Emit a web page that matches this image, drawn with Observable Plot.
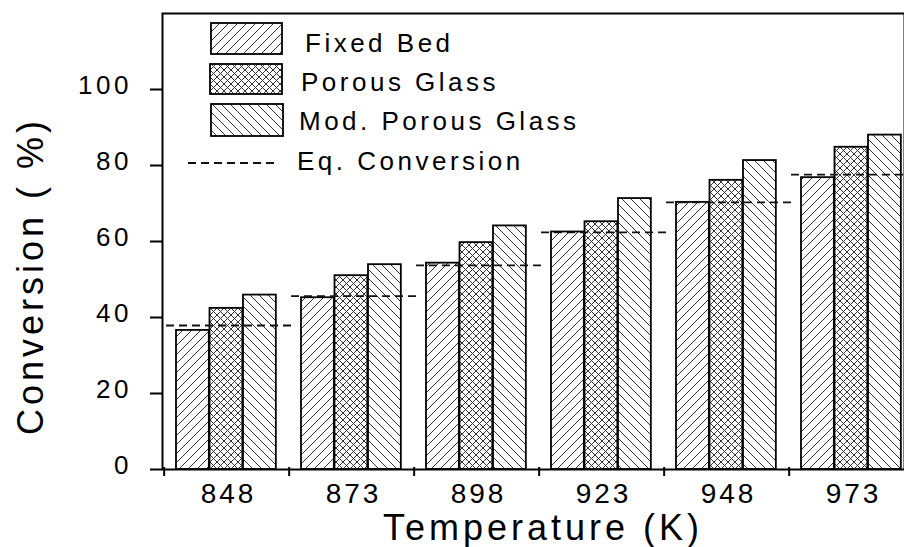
<!DOCTYPE html>
<html>
<head>
<meta charset="utf-8">
<script src="https://cdn.jsdelivr.net/npm/d3@7"></script>
<script src="https://cdn.jsdelivr.net/npm/@observablehq/plot@0.6"></script>
<style>
  html, body { margin: 0; padding: 0; background: white; overflow: hidden; }
  #chart { position: relative; width: 904px; height: 547px; }
  g[aria-label="x-axis tick label"] text { letter-spacing: 3px; }
  g[aria-label="y-axis tick label"] text { letter-spacing: 3.5px; }
</style>
</head>
<body>
<div id="chart"></div>
<script>
// ---- data ----
const temperatures = ["848", "873", "898", "923", "948", "973"];
const seriesNames = ["Fixed Bed", "Porous Glass", "Mod. Porous Glass"];
const fixedBed = [36.6, 45.2, 54.3, 62.5, 70.3, 76.8];
const porousGlass = [42.4, 51.0, 59.7, 65.2, 76.1, 84.8];
const modPorousGlass = [45.9, 53.9, 64.1, 71.3, 81.3, 88.0];
const eqConversion = [37.9, 45.6, 53.7, 62.4, 70.3, 77.6];
const yTicks = [0, 20, 40, 60, 80, 100];
const eqLabel = "Eq. Conversion";
const xTitle = "Temperature (K)";
const yTitle = "Conversion ( %)";

// ---- tables built from the arrays ----
const rows = (vals) => temperatures.map((t, i) => ({temp: t, value: vals[i]}));
const fixedRows = rows(fixedBed);
const porousRows = rows(porousGlass);
const modRows = rows(modPorousGlass);
const eqRows = rows(eqConversion);

// ---- layout ----
const W = 904, H = 547;
const xRange = [162, 916];
const step = (xRange[1] - xRange[0]) / temperatures.length;
const groupPad = 12, barW = 33.5;
const inset = (k) => ({insetLeft: groupPad + k * barW, insetRight: step - groupPad - (k + 1) * barW});
const patterns = ["url(#hatchFwd)", "url(#hatchCross)", "url(#hatchBack)"];
const font = "'Liberation Sans', Arial, Helvetica, sans-serif";

const barOpts = (k) => ({x: "temp", y: "value", fill: patterns[k], stroke: "black", strokeWidth: 1.8, ...inset(k)});

const plot = Plot.plot({
  width: W, height: H,
  marginLeft: 162, marginTop: 13, marginBottom: 78, marginRight: 0,
  x: {domain: temperatures, range: xRange, padding: 0},
  y: {domain: [0, 120], range: [469, 13]},
  style: {fontFamily: font, color: "black", background: "white", overflow: "hidden"},
  marks: [
    Plot.barY(fixedRows, barOpts(0)),
    Plot.barY(porousRows, barOpts(1)),
    Plot.barY(modRows, barOpts(2)),
    Plot.tickY(eqRows, {x: "temp", y: "value", stroke: "#111", strokeWidth: 1.8, strokeDasharray: "8,5", insetLeft: 2, insetRight: -4}),
    Plot.frame({stroke: "black", strokeWidth: 2}),
    Plot.axisY({ticks: yTicks, tickSize: 12, strokeWidth: 2, tickFormat: () => "", label: null}),
    Plot.axisY({ticks: yTicks, tickSize: 0, tickPadding: 30.5, fontSize: 26, dy: -4, label: null}),
    Plot.axisX({tickSize: 0, tickPadding: 14, fontSize: 28, dx: 1.5, label: null}),
    Plot.ruleX(temperatures, {x: d => d, dx: -step / 2, insetTop: 454, insetBottom: -7, strokeWidth: 2, stroke: "black"})
  ]
});

document.getElementById("chart").appendChild(plot);

// ---- hatch patterns ----
const svg = d3.select(plot);
const defs = svg.insert("defs", ":first-child");
function mkPattern(id, size, d) {
  const p = defs.append("pattern").attr("id", id).attr("patternUnits", "userSpaceOnUse")
    .attr("width", size).attr("height", size);
  p.append("rect").attr("width", size).attr("height", size).attr("fill", "white");
  p.append("path").attr("d", d).attr("stroke", "#333").attr("stroke-width", 1).attr("fill", "none");
}
const s = 9;
mkPattern("hatchFwd", s, `M${-s/4},${s/4} l${s/2},${-s/2} M0,${s} L${s},0 M${s*3/4},${s*5/4} l${s/2},${-s/2}`);
mkPattern("hatchBack", s, `M${-s/4},${s*3/4} l${s/2},${s/2} M0,0 L${s},${s} M${s*3/4},${-s/4} l${s/2},${s/2}`);
const c = 7;
mkPattern("hatchCross", c, `M${-c/4},${c/4} l${c/2},${-c/2} M0,${c} L${c},0 M${c*3/4},${c*5/4} l${c/2},${-c/2} M${-c/4},${c*3/4} l${c/2},${c/2} M0,0 L${c},${c} M${c*3/4},${-c/4} l${c/2},${c/2}`);

// ---- legend (inside plot area) ----
const lg = svg.append("g").attr("font-family", font).attr("font-size", 26)
  .attr("letter-spacing", "3.5px").attr("text-anchor", "start");
const sw = [
  {x: 211, y: 23, w: 71, h: 31},
  {x: 210, y: 64, w: 72, h: 30},
  {x: 211, y: 104, w: 72, h: 32}
];
const textPos = [{x: 305, y: 52}, {x: 301, y: 91}, {x: 299, y: 130}];
seriesNames.forEach((name, k) => {
  lg.append("rect").attr("x", sw[k].x).attr("y", sw[k].y).attr("width", sw[k].w).attr("height", sw[k].h)
    .attr("fill", patterns[k]).attr("stroke", "black").attr("stroke-width", 1.8);
  lg.append("text").attr("x", textPos[k].x).attr("y", textPos[k].y).attr("text-anchor", "start").text(name);
});
lg.append("line").attr("x1", 188).attr("x2", 277).attr("y1", 163).attr("y2", 163)
  .attr("stroke", "#111").attr("stroke-width", 1.8).attr("stroke-dasharray", "8,5");
lg.append("text").attr("x", 297).attr("y", 170).attr("text-anchor", "start").text(eqLabel);

// ---- axis titles ----
svg.append("text").attr("x", 543).attr("y", 540).attr("text-anchor", "middle")
  .attr("font-family", font).attr("font-size", 36).attr("letter-spacing", "4px").text(xTitle);
svg.append("text").attr("transform", "translate(43,276) rotate(-90)").attr("text-anchor", "middle")
  .attr("font-family", font).attr("font-size", 36).attr("letter-spacing", "4px").text(yTitle);
</script>
</body>
</html>
